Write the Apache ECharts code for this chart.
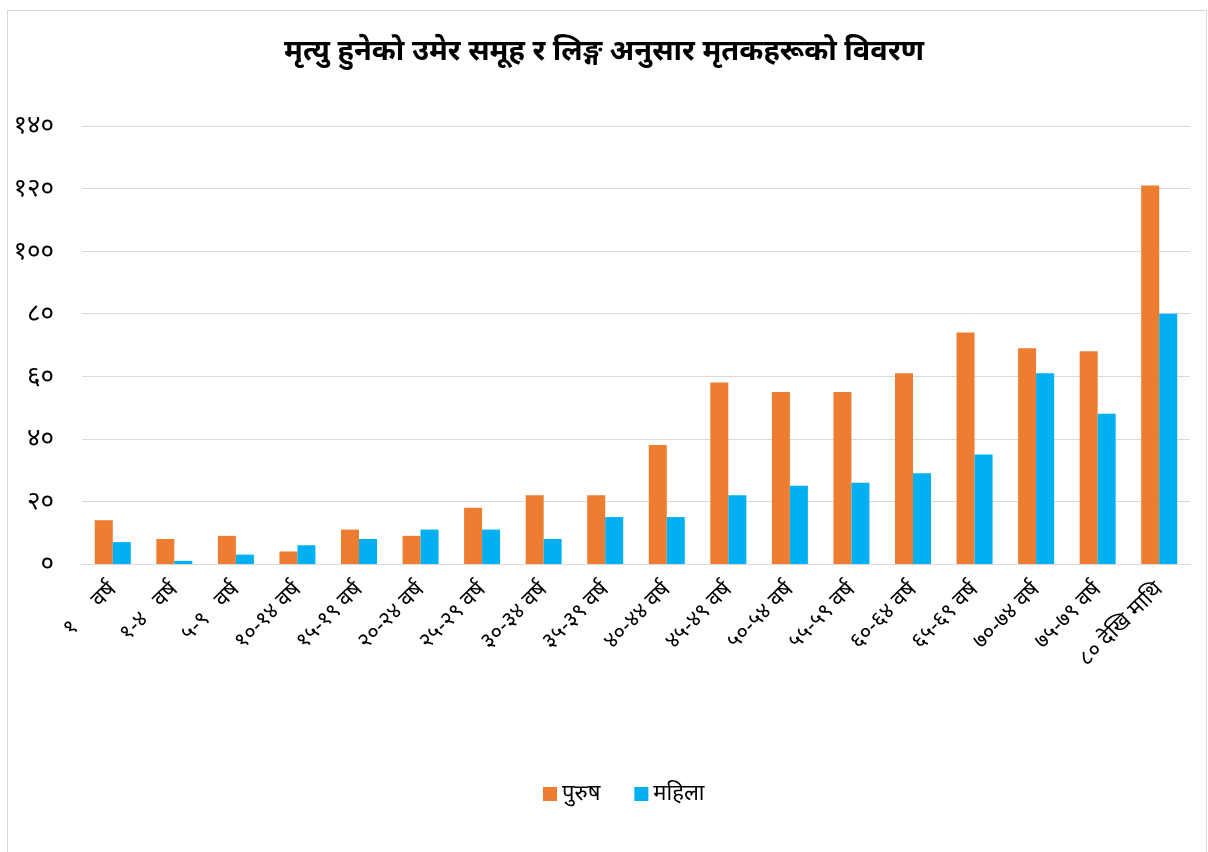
<!DOCTYPE html>
<html>
<head>
<meta charset="utf-8">
<script src="https://cdn.jsdelivr.net/npm/echarts@6/dist/echarts.min.js"></script>
<style>
  html, body { margin: 0; padding: 0; background: #fff; }
  #frame {
    position: absolute; left: 7px; top: 10px; width: 1200px; height: 850px;
    border: 1px solid #d9d9d9; box-sizing: border-box;
  }
  #chart { position: absolute; left: 0; top: 0; width: 1208px; height: 852px; }
</style>
</head>
<body>
<div id="frame"></div>
<div id="chart"></div>
<script>
const categories = [
  '१     वर्ष', '१-४   वर्ष', '५-९   वर्ष', '१०-१४ वर्ष', '१५-१९ वर्ष', '२०-२४ वर्ष',
  '२५-२९ वर्ष', '३०-३४ वर्ष', '३५-३९ वर्ष', '४०-४४ वर्ष', '४५-४९ वर्ष', '५०-५४ वर्ष',
  '५५-५९ वर्ष', '६०-६४ वर्ष', '६५-६९ वर्ष', '७०-७४ वर्ष', '७५-७९ वर्ष', '८० देखि माथि'
];
const maleValues = [14, 8, 9, 4, 11, 9, 18, 22, 22, 38, 58, 55, 55, 61, 74, 69, 68, 121];
const femaleValues = [7, 1, 3, 6, 8, 11, 11, 8, 15, 15, 22, 25, 26, 29, 35, 61, 48, 80];
const seriesNames = ['पुरुष', 'महिला'];
const devanagariDigits = ['०', '१', '२', '३', '४', '५', '६', '७', '८', '९'];

const toNepali = v => String(v).replace(/[0-9]/g, d => devanagariDigits[+d]);

const chart = echarts.init(document.getElementById('chart'));
const font = '"Noto Sans", "Noto Sans Devanagari", sans-serif';

chart.setOption({
  animation: false,
  textStyle: { fontFamily: font },
  title: {
    text: 'मृत्यु हुनेको उमेर समूह र लिङ्ग अनुसार मृतकहरूको विवरण',
    left: 'center',
    top: 32,
    textStyle: { fontSize: 29, fontWeight: 'bold', color: '#000', fontFamily: font }
  },
  legend: {
    data: seriesNames,
    bottom: 42,
    left: 538,
    itemWidth: 14,
    itemHeight: 14,
    itemGap: 34,
    icon: 'rect',
    textStyle: { fontSize: 22, color: '#000', fontFamily: font }
  },
  grid: { left: 82, right: 18, top: 126, bottom: 288, containLabel: false },
  xAxis: {
    type: 'category',
    data: categories,
    axisLine: { lineStyle: { color: '#d9d9d9' } },
    axisTick: { show: false },
    axisLabel: { interval: 0, rotate: 45, fontSize: 22, color: '#000', margin: 22, fontFamily: font }
  },
  yAxis: {
    type: 'value',
    min: 0,
    max: 140,
    interval: 20,
    axisLine: { show: false },
    axisTick: { show: false },
    splitLine: { lineStyle: { color: '#d9d9d9' } },
    axisLabel: { fontSize: 26, color: '#000', margin: 28, formatter: toNepali, fontFamily: font }
  },
  series: [
    {
      name: seriesNames[0],
      type: 'bar',
      data: maleValues,
      barWidth: 18,
      barGap: '0%',
      itemStyle: { color: '#ED7D31' }
    },
    {
      name: seriesNames[1],
      type: 'bar',
      data: femaleValues,
      barWidth: 18,
      barGap: '0%',
      itemStyle: { color: '#00B0F0' }
    }
  ]
});
</script>
</body>
</html>
